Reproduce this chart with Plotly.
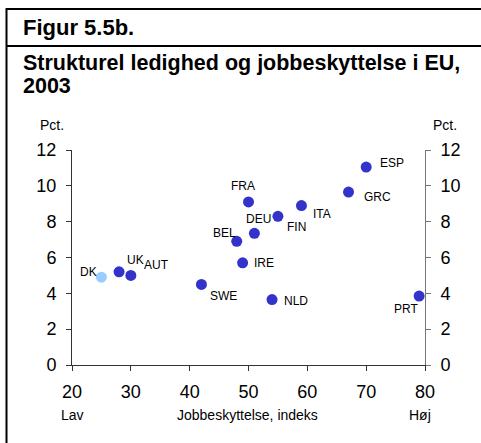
import plotly.graph_objects as go

countries = ["DK", "UK", "AUT", "SWE", "BEL", "IRE", "DEU", "FRA", "FIN", "ITA", "GRC", "ESP", "NLD", "PRT"]
jobprotection = [25, 28, 30, 42, 48, 49, 51, 50, 55, 59, 67, 70, 54, 79]
unemployment = [4.9, 5.2, 5.0, 4.5, 6.9, 5.7, 7.35, 9.1, 8.3, 8.9, 9.65, 11.05, 3.65, 3.85]
x_ticks = [20, 30, 40, 50, 60, 70, 80]
y_ticks = [0, 2, 4, 6, 8, 10, 12]

DARK = "#3333CC"
LIGHT = "#99CCFF"
colors = [LIGHT if c == "DK" else DARK for c in countries]

# label placement (xanchor, xshift, yshift) per country
label_style = {
    "DK": ("right", -2, 5),
    "UK": ("left", 6, 12),
    "AUT": ("left", 11, 10),
    "SWE": ("left", 7, -12),
    "BEL": ("right", 1, 8),
    "IRE": ("left", 9, 0),
    "DEU": ("center", 4, 14),
    "FRA": ("center", -6, 16),
    "FIN": ("left", 7, -11),
    "ITA": ("left", 10, -8),
    "GRC": ("left", 13, -5),
    "ESP": ("left", 12, 4),
    "NLD": ("left", 10, -1),
    "PRT": ("right", 1, -13),
}

W, H = 481, 443
L, R, T, B = 72, 425, 150, 365


def px(xp):
    return (xp - L) / (R - L)


def py(yp):
    return (B - yp) / (B - T)


fig = go.Figure()
fig.add_trace(go.Scatter(
    x=jobprotection, y=unemployment, mode="markers",
    marker=dict(size=11, color=colors, line=dict(width=0)),
    hoverinfo="text", text=countries, showlegend=False,
))
fig.add_trace(go.Scatter(
    x=jobprotection, y=unemployment, mode="markers", yaxis="y2",
    marker=dict(size=1, opacity=0), hoverinfo="skip", showlegend=False,
))

font = "Liberation Sans, Arial, sans-serif"
ann = []
for c, xv, yv in zip(countries, jobprotection, unemployment):
    xa, xs, ys = label_style[c]
    ann.append(dict(x=xv, y=yv, xref="x", yref="y", text=c, showarrow=False,
                    xanchor=xa, yanchor="middle", xshift=xs, yshift=ys,
                    font=dict(size=12, color="#000", family=font)))

ann += [
    dict(x=px(21), y=py(27), xref="paper", yref="paper", text="<b>Figur 5.5b.</b>",
         showarrow=False, xanchor="left", yanchor="middle",
         font=dict(size=22, color="#000", family=font)),
    dict(x=px(21), y=py(63), xref="paper", yref="paper",
         text="<b>Strukturel ledighed og jobbeskyttelse i EU,</b>",
         showarrow=False, xanchor="left", yanchor="middle",
         font=dict(size=21.5, color="#000", family=font)),
    dict(x=px(21), y=py(86), xref="paper", yref="paper", text="<b>2003</b>",
         showarrow=False, xanchor="left", yanchor="middle",
         font=dict(size=21.5, color="#000", family=font)),
    dict(x=px(38), y=py(125), xref="paper", yref="paper", text="Pct.",
         showarrow=False, xanchor="left", yanchor="middle",
         font=dict(size=14, color="#000", family=font)),
    dict(x=px(459), y=py(125), xref="paper", yref="paper", text="Pct.",
         showarrow=False, xanchor="right", yanchor="middle",
         font=dict(size=14, color="#000", family=font)),
    dict(x=px(72), y=py(415), xref="paper", yref="paper", text="Lav",
         showarrow=False, xanchor="center", yanchor="middle",
         font=dict(size=14, color="#000", family=font)),
    dict(x=px(247), y=py(415), xref="paper", yref="paper", text="Jobbeskyttelse, indeks",
         showarrow=False, xanchor="center", yanchor="middle",
         font=dict(size=14, color="#000", family=font)),
    dict(x=px(420), y=py(415), xref="paper", yref="paper", text="Høj",
         showarrow=False, xanchor="center", yanchor="middle",
         font=dict(size=14, color="#000", family=font)),
]

shapes = [
    dict(type="line", xref="paper", yref="paper", x0=px(6.5), x1=px(W + 5),
         y0=py(9), y1=py(9), line=dict(color="#000", width=2)),
    dict(type="line", xref="paper", yref="paper", x0=px(6.5), x1=px(W + 5),
         y0=py(46), y1=py(46), line=dict(color="#000", width=2)),
    dict(type="line", xref="paper", yref="paper", x0=px(6.5), x1=px(6.5),
         y0=py(8), y1=py(H + 5), line=dict(color="#000", width=2)),
]

tickfont = dict(size=18, color="#000", family=font)
fig.update_layout(
    width=W, height=H,
    margin=dict(l=L, r=W - R, t=T, b=H - B, pad=0),
    paper_bgcolor="white", plot_bgcolor="white",
    font=dict(family=font),
    xaxis=dict(range=[20, 80], tickvals=x_ticks, ticks="outside", ticklen=5,
               tickcolor="#333", showline=True, linecolor="#333", linewidth=1,
               showgrid=False, zeroline=False, tickfont=tickfont,
               ticklabelstandoff=5),
    yaxis=dict(range=[0, 12], tickvals=y_ticks, ticks="outside", ticklen=5,
               tickcolor="#333", showline=True, linecolor="#333", linewidth=1,
               showgrid=False, zeroline=False, tickfont=tickfont,
               ticklabelstandoff=6),
    yaxis2=dict(range=[0, 12], tickvals=y_ticks, ticks="outside", ticklen=5,
                tickcolor="#777", showline=True, linecolor="#777", linewidth=1,
                showgrid=False, zeroline=False, tickfont=tickfont,
                overlaying="y", side="right", ticklabelstandoff=6),
    annotations=ann, shapes=shapes,
)

fig.write_html("out.html", config={"displayModeBar": False},
               post_script="document.body.style.margin='0px';document.body.style.overflow='hidden';")
